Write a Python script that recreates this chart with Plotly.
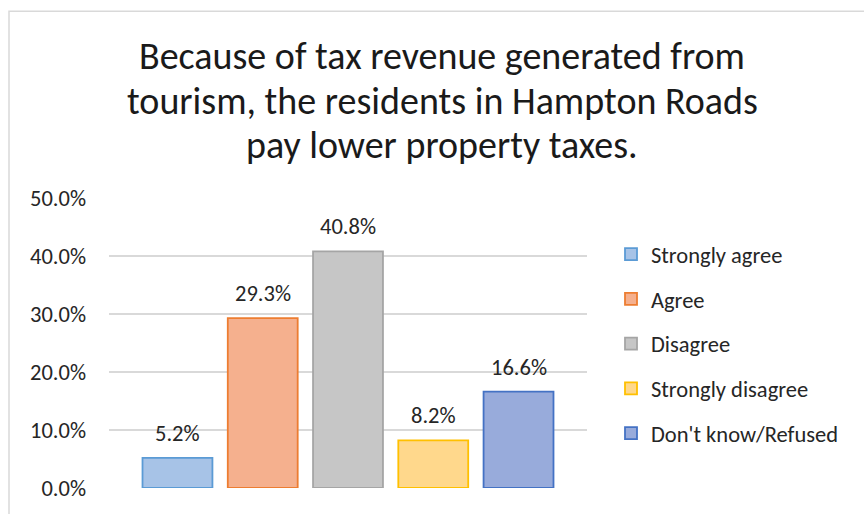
import plotly.graph_objects as go

categories = ["Strongly agree", "Agree", "Disagree", "Strongly disagree", "Don't know/Refused"]
values = [0.052, 0.293, 0.408, 0.082, 0.166]
fill_colors = ["#A7C3E7", "#F5B08E", "#C6C6C6", "#FFD88C", "#98ABDB"]
line_colors = ["#5B9BD5", "#ED7D31", "#A5A5A5", "#FFC000", "#4472C4"]
title_lines = ["Because of tax revenue generated from",
               "tourism, the residents in Hampton Roads",
               "pay lower property taxes."]
tick_vals = [0, 0.1, 0.2, 0.3, 0.4, 0.5]

FONT = "Calibri, Carlito, Lato, sans-serif"
W, H = 864, 514
ML, MR, MT, MB = 109, 277, 198, 21
PW, PH = W - ML - MR, H - MT - MB

fig = go.Figure()
for i, (c, v) in enumerate(zip(categories, values)):
    fig.add_trace(go.Bar(
        x=[c], y=[v], name=c, legendgroup=c,
        marker=dict(color=fill_colors[i], line=dict(color=line_colors[i], width=1.8)),
        hoverinfo="skip",
    ))
    fig.add_annotation(x=c, y=v, text=f"{v*100:.1f}%", showarrow=False,
                       yanchor="bottom", yshift=9,
                       font=dict(family=FONT, size=22.5, color="#262626"))

for k, t in enumerate(title_lines):
    fig.add_annotation(xref="paper", yref="paper",
                       x=(442 - ML) / PW, y=(H - MB - (54 + 45 * k)) / PH,
                       text=t, showarrow=False, xanchor="center", yanchor="middle",
                       font=dict(family=FONT, size=38, color="#1a1a1a"))

# chart border
fig.add_shape(type="rect", xref="paper", yref="paper",
              x0=(9 - ML) / PW, x1=(880 - ML) / PW,
              y0=(H - MB - 530) / PH, y1=(H - MB - 8) / PH,
              line=dict(color="#D9D9D9", width=1.5), fillcolor="rgba(0,0,0,0)", layer="below")

fig.update_layout(
    width=W, height=H,
    margin=dict(l=ML, r=MR, t=MT, b=MB, pad=0),
    paper_bgcolor="white", plot_bgcolor="white",
    barmode="overlay", bargap=0.18,
    showlegend=True,
    legend=dict(xref="container", yref="container", x=611 / W, y=1 - 233 / H,
                xanchor="left", yanchor="top",
                font=dict(family=FONT, size=22.5, color="#262626"),
                tracegroupgap=12.5, itemwidth=30, bgcolor="rgba(0,0,0,0)"),
    xaxis=dict(showticklabels=False, showgrid=False, zeroline=False, showline=False,
               range=[-0.803, 4.803], fixedrange=True),
    yaxis=dict(range=[0, 0.5], tickvals=tick_vals, tickformat=".1%",
               showgrid=True, gridcolor="#D9D9D9", gridwidth=1.3,
               zeroline=False, showline=False, ticks="",
               ticklabelstandoff=22, fixedrange=True,
               tickfont=dict(family=FONT, size=22.5, color="#262626")),
)

fig.write_html("out.html", config={"displayModeBar": False, "staticPlot": True},
               post_script="document.body.style.margin='0';document.body.style.overflow='hidden';")
